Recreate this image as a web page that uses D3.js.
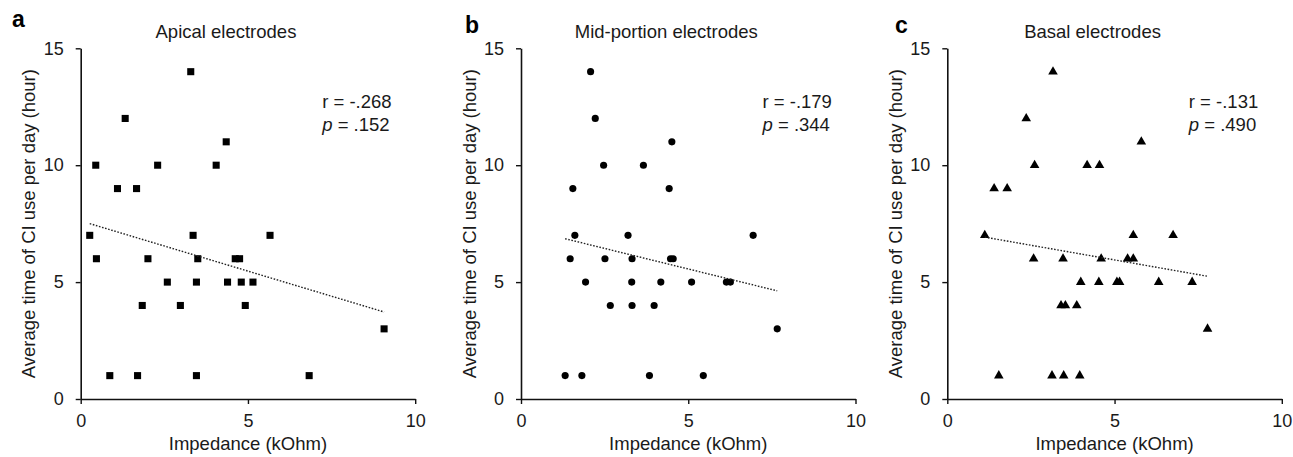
<!DOCTYPE html>
<html>
<head>
<meta charset="utf-8">
<script src="https://cdn.jsdelivr.net/npm/d3@7"></script>
<style>
  body { margin: 0; background: #fff; }
  svg { display: block; font-family: Arial, 'Liberation Sans', sans-serif; }
</style>
</head>
<body>
<svg width="1293" height="457"></svg>
<script>
// panel info
const letters = ['a', 'b', 'c'];
const titles = ['Apical electrodes', 'Mid-portion electrodes', 'Basal electrodes'];
const rValues = ['-.268', '-.179', '-.131'];
const pValues = ['.152', '.344', '.490'];
const markers = ['square', 'circle', 'triangle'];

// tick labels
const xTicks = [0, 5, 10];
const yTicks = [0, 5, 10, 15];

// impedance (kOhm) and hours of use
const apicalX = [3.29, 1.33, 4.35, 0.45, 2.30, 4.05, 1.10, 1.67, 0.27, 3.36, 5.66, 0.47, 2.01, 3.50, 4.62, 4.75, 2.59, 3.46, 4.39, 4.80, 5.15, 1.84, 2.98, 4.92, 9.07, 0.87, 1.70, 3.46, 6.83];
const apicalY = [14, 12, 11, 10, 10, 10, 9, 9, 7, 7, 7, 6, 6, 6, 6, 6, 5, 5, 5, 5, 5, 4, 4, 4, 3, 1, 1, 1, 1];

const midX = [2.08, 2.22, 4.51, 2.47, 3.66, 1.55, 4.43, 1.61, 3.20, 6.94, 1.47, 2.51, 3.32, 4.47, 4.55, 1.93, 3.31, 4.18, 5.10, 6.14, 6.26, 2.67, 3.32, 3.98, 7.66, 1.32, 1.82, 3.84, 5.45];
const midY = [14, 12, 11, 10, 10, 9, 9, 7, 7, 7, 6, 6, 6, 6, 6, 5, 5, 5, 5, 5, 5, 4, 4, 4, 3, 1, 1, 1, 1];

const basalX = [3.16, 2.36, 5.80, 2.61, 4.18, 4.55, 1.40, 1.79, 1.12, 5.56, 6.75, 2.58, 3.46, 4.60, 5.39, 5.56, 3.99, 4.53, 5.07, 5.15, 6.32, 7.32, 3.40, 3.53, 3.87, 7.78, 1.54, 3.13, 3.48, 3.96];
const basalY = [14, 12, 11, 10, 10, 10, 9, 9, 7, 7, 7, 6, 6, 6, 6, 6, 5, 5, 5, 5, 5, 5, 4, 4, 4, 3, 1, 1, 1, 1];

const seriesX = [apicalX, midX, basalX];
const seriesY = [apicalY, midY, basalY];

const svg = d3.select('svg');

// layout of the three panels
const panelLeft = [80.7, 521, 947.3];
const plotWidth = 334.5;
const plotTop = 48.3;
const plotBottom = 399;
const plotHeight = plotBottom - plotTop;
const letterX = [12, 465, 895];
const letterBaseline = [27, 33, 33];
const ink = '#111';

const symbols = {
  square: d3.symbol().type(d3.symbolSquare).size(50),
  circle: d3.symbol().type(d3.symbolCircle).size(40),
  triangle: d3.symbol().type(d3.symbolTriangle).size(40),
};

// least squares fit for the dotted trend line
function fit(xs, ys) {
  const mx = d3.mean(xs);
  const my = d3.mean(ys);
  const sxy = d3.sum(xs, (v, i) => (v - mx) * (ys[i] - my));
  const sxx = d3.sum(xs, v => (v - mx) * (v - mx));
  const slope = sxy / sxx;
  return v => my + slope * (v - mx);
}

letters.forEach((letter, k) => {
  const x = d3.scaleLinear().domain([0, 10]).range([0, plotWidth]);
  const y = d3.scaleLinear().domain([0, 15]).range([plotHeight, 0]);

  const g = svg.append('g')
    .attr('transform', `translate(${panelLeft[k]} ${plotTop})`);

  // axes
  const xAxis = g.append('g')
    .attr('transform', `translate(0 ${plotHeight})`)
    .call(d3.axisBottom(x).tickValues(xTicks).tickSize(5).tickPadding(10).tickSizeOuter(0));
  const yAxis = g.append('g')
    .call(d3.axisLeft(y).tickValues(yTicks).tickSize(5).tickPadding(12).tickSizeOuter(0));

  [xAxis, yAxis].forEach(ax => {
    ax.select('.domain').attr('stroke', ink).attr('stroke-width', 1.6);
    ax.selectAll('.tick line').attr('stroke', ink).attr('stroke-width', 1.4);
    ax.selectAll('.tick text')
      .attr('fill', '#1a1a1a')
      .attr('font-size', 18)
      .attr('font-family', 'Arial, Liberation Sans, sans-serif');
  });

  // points
  const xs = seriesX[k];
  const ys = seriesY[k];
  g.append('g')
    .selectAll('path')
    .data(xs.map((v, i) => [v, ys[i]]))
    .join('path')
    .attr('d', symbols[markers[k]])
    .attr('transform', d => `translate(${x(d[0])} ${y(d[1])})`)
    .attr('fill', '#000');

  // dotted trend line over the range of the data
  const line = fit(xs, ys);
  const [x0, x1] = d3.extent(xs);
  g.append('path')
    .attr('d', d3.line()([[x(x0), y(line(x0))], [x(x1), y(line(x1))]]))
    .attr('stroke', '#222')
    .attr('stroke-width', 1.4)
    .attr('stroke-dasharray', '1.6 1.6')
    .attr('fill', 'none');

  // correlation text
  const stats = g.append('text')
    .attr('x', x(7.22))
    .attr('y', 108 - plotTop)
    .attr('font-size', 18.5)
    .attr('fill', '#1a1a1a');
  stats.append('tspan').text(`r = ${rValues[k]}`);
  const p = stats.append('tspan').attr('x', x(7.22)).attr('dy', 23);
  p.append('tspan').attr('font-style', 'italic').text('p');
  p.append('tspan').text(` = ${pValues[k]}`);

  // axis titles
  g.append('text')
    .attr('x', plotWidth / 2)
    .attr('y', 450 - plotTop)
    .attr('text-anchor', 'middle')
    .attr('font-size', 18.5)
    .attr('fill', '#1a1a1a')
    .text('Impedance (kOhm)');

  g.append('text')
    .attr('transform', `translate(-45.5 ${plotHeight / 2}) rotate(-90)`)
    .attr('text-anchor', 'middle')
    .attr('font-size', 18.5)
    .attr('fill', '#1a1a1a')
    .text('Average time of CI use per day (hour)');

  // panel title and letter
  g.append('text')
    .attr('x', plotWidth / 2 - 22)
    .attr('y', 37.5 - plotTop)
    .attr('text-anchor', 'middle')
    .attr('font-size', 18.5)
    .attr('fill', '#1a1a1a')
    .text(titles[k]);

  g.append('text')
    .attr('x', letterX[k] - panelLeft[k])
    .attr('y', letterBaseline[k] - plotTop)
    .attr('font-size', 23)
    .attr('font-weight', 'bold')
    .attr('fill', '#000')
    .text(letter);
});
</script>
</body>
</html>
